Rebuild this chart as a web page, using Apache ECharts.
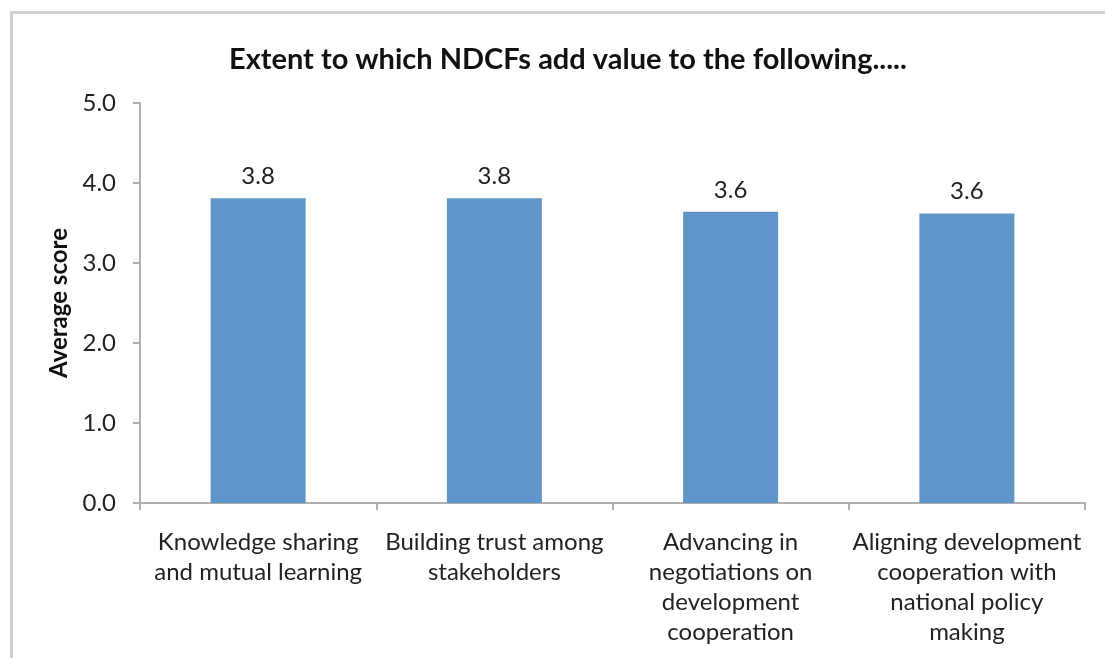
<!DOCTYPE html>
<html>
<head>
<meta charset="utf-8">
<script src="https://cdn.jsdelivr.net/npm/echarts@6/dist/echarts.min.js"></script>
<style>
  html, body { margin: 0; padding: 0; background: #fff; }
  #chart { width: 1105px; height: 658px; }
</style>
</head>
<body>
<div id="chart"></div>
<script>
var categories = [
    'Knowledge sharing\nand mutual learning',
    'Building trust among\nstakeholders',
    'Advancing in\nnegotiations on\ndevelopment\ncooperation',
    'Aligning development\ncooperation with\nnational policy\nmaking'
];
var scores = [3.81, 3.81, 3.64, 3.62];
var yTicks = [0, 1, 2, 3, 4, 5];

var font = 'Lato, "Open Sans", sans-serif';
var chart = echarts.init(document.getElementById('chart'));

var option = {
    backgroundColor: '#fff',
    animation: false,
    graphic: [{
        type: 'rect',
        shape: { x: 11.5, y: 12.5, width: 1200, height: 800 },
        style: { fill: 'none', stroke: '#d0d0d0', lineWidth: 3 },
        silent: true
    }],
    title: {
        text: 'Extent to which NDCFs add value to the following.....',
        left: 224,
        top: 40,
        textStyle: {
            fontFamily: font,
            fontSize: 29,
            fontWeight: 'bold',
            color: '#111'
        }
    },
    grid: { left: 140, right: 20, top: 103, bottom: 155 },
    xAxis: {
        type: 'category',
        data: categories,
        axisLine: { lineStyle: { color: '#b0b0b0', width: 2 } },
        axisTick: { show: true, length: 7, alignWithLabel: false, lineStyle: { color: '#b0b0b0', width: 2 } },
        axisLabel: {
            interval: 0,
            margin: 24,
            fontFamily: font,
            fontSize: 24,
            lineHeight: 30,
            color: '#222'
        }
    },
    yAxis: {
        type: 'value',
        min: 0,
        max: yTicks[yTicks.length - 1],
        interval: 1,
        name: 'Average score',
        nameLocation: 'middle',
        nameGap: 66,
        nameTextStyle: {
            fontFamily: font,
            fontSize: 24,
            fontWeight: 'bold',
            color: '#111'
        },
        axisLine: { show: true, lineStyle: { color: '#b0b0b0', width: 2 } },
        axisTick: { show: true, length: 7, lineStyle: { color: '#b0b0b0', width: 2 } },
        splitLine: { show: false },
        axisLabel: {
            margin: 24,
            fontFamily: font,
            fontSize: 24,
            color: '#222',
            formatter: function (v) { return v.toFixed(1); }
        }
    },
    series: [{
        type: 'bar',
        data: scores,
        barWidth: 95,
        itemStyle: { color: '#5f95c9' },
        label: {
            show: true,
            position: 'top',
            distance: 10,
            fontFamily: font,
            fontSize: 24,
            color: '#222',
            formatter: function (p) { return p.value.toFixed(1); }
        }
    }]
};

chart.setOption(option);
</script>
</body>
</html>
